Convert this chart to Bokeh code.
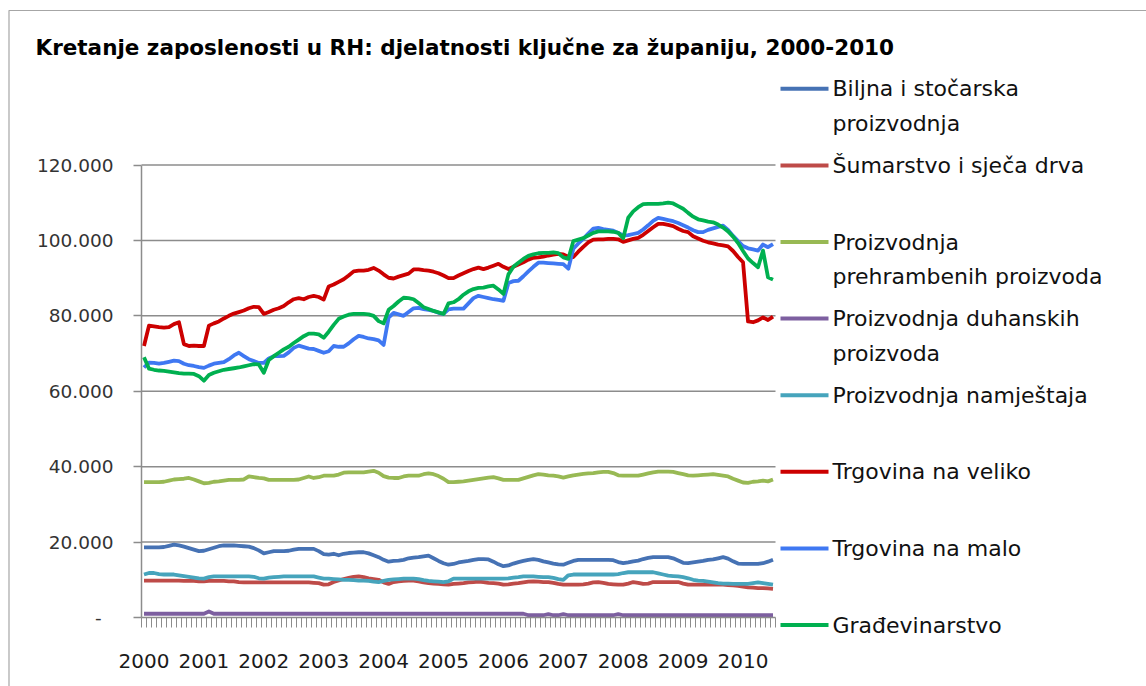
from bokeh.plotting import figure
from bokeh.models import Range1d, LinearAxis, FixedTicker
from bokeh.embed import file_html
from bokeh.resources import INLINE
from bokeh.core.properties import value

# ---------------- data (monthly, Jan 2000 - Jul 2010) ----------------
years = ["2000", "2001", "2002", "2003", "2004", "2005",
         "2006", "2007", "2008", "2009", "2010"]

y_tick_values = [0, 20000, 40000, 60000, 80000, 100000, 120000]
y_tick_labels = ["-", "20.000", "40.000", "60.000", "80.000", "100.000", "120.000"]

biljna = [18600, 18600, 18600, 18600, 18700, 19000, 19300, 19100, 18800, 18400,
          18000, 17600, 17700, 18100, 18500, 18900, 19100, 19100, 19100, 19000,
          18900, 18800, 18400, 17800, 17000, 17300, 17600, 17600, 17600, 17700,
          18000, 18200, 18200, 18200, 18200, 17600, 16800, 16700, 16900, 16500,
          16900, 17100, 17200, 17300, 17300, 17000, 16500, 16000, 15300, 14800,
          15000, 15100, 15300, 15700, 15900, 16000, 16200, 16400, 15700, 15000,
          14400, 14000, 14200, 14600, 14800, 15000, 15300, 15500, 15500, 15400,
          14800, 14100, 13600, 13800, 14300, 14700, 15000, 15300, 15500, 15300,
          14900, 14600, 14300, 14100, 14000, 14500, 15000, 15300, 15300, 15300,
          15300, 15300, 15300, 15300, 15200, 14700, 14400, 14600, 14900, 15100,
          15500, 15800, 16000, 16000, 16000, 16000, 15700, 15100, 14500, 14400,
          14600, 14800, 15000, 15300, 15400, 15700, 16000, 15600, 14900, 14300,
          14200, 14200, 14200, 14200, 14400, 14800, 15300]

sumarstvo = [9800, 9800, 9800, 9800, 9800, 9800, 9800, 9800, 9700, 9700,
             9700, 9600, 9600, 9700, 9700, 9700, 9700, 9600, 9600, 9400,
             9300, 9300, 9300, 9300, 9300, 9300, 9300, 9300, 9300, 9300,
             9300, 9300, 9300, 9300, 9200, 9100, 8700, 8800, 9400, 9800,
             10200, 10500, 10800, 10900, 10700, 10400, 10200, 10000, 9300, 8900,
             9400, 9600, 9700, 9800, 9800, 9600, 9300, 9100, 9000, 8900,
             8800, 8700, 8900, 9000, 9100, 9300, 9400, 9500, 9400, 9200,
             9100, 9000, 8700, 8800, 9000, 9100, 9300, 9500, 9600, 9500,
             9400, 9400, 9200, 8900, 8700, 8700, 8700, 8700, 8800, 9000,
             9300, 9400, 9200, 8900, 8800, 8700, 8700, 9000, 9400, 9200,
             8900, 9000, 9400, 9400, 9400, 9400, 9400, 9400, 9000, 8700,
             8700, 8700, 8700, 8700, 8700, 8700, 8700, 8600, 8500, 8400,
             8200, 8000, 7900, 7800, 7800, 7700, 7600]

prehrambeni = [35900, 35900, 35900, 35900, 36000, 36300, 36600, 36700, 36800, 37000,
               36600, 36100, 35600, 35700, 36000, 36100, 36300, 36500, 36500, 36500,
               36600, 37400, 37200, 37000, 36900, 36500, 36500, 36500, 36500, 36500,
               36500, 36600, 37000, 37400, 37000, 37200, 37600, 37600, 37600, 37900,
               38400, 38500, 38500, 38500, 38500, 38700, 38900, 38400, 37500, 37100,
               37000, 37000, 37400, 37600, 37600, 37600, 38000, 38200, 38000, 37500,
               36800, 35900, 35900, 36000, 36100, 36300, 36500, 36700, 36900, 37100,
               37200, 36900, 36500, 36500, 36500, 36500, 36900, 37300, 37700, 38000,
               37900, 37700, 37600, 37400, 37100, 37400, 37700, 37900, 38100, 38200,
               38300, 38500, 38600, 38600, 38300, 37700, 37600, 37600, 37600, 37600,
               37900, 38200, 38500, 38700, 38700, 38700, 38600, 38300, 38000, 37700,
               37600, 37700, 37800, 37900, 38000, 37800, 37600, 37400, 36800, 36300,
               35800, 35700, 36000, 36100, 36300, 36100, 36600]

duhanski = [1000, 1000, 1000, 1000, 1000, 1000, 1000, 1000, 1000, 1000,
            1000, 1000, 1000, 1600, 1000, 1000, 1000, 1000, 1000, 1000,
            1000, 1000, 1000, 1000, 1000, 1000, 1000, 1000, 1000, 1000,
            1000, 1000, 1000, 1000, 1000, 1000, 1000, 1000, 1000, 1000,
            1000, 1000, 1000, 1000, 1000, 1000, 1000, 1000, 1000, 1000,
            1000, 1000, 1000, 1000, 1000, 1000, 1000, 1000, 1000, 1000,
            1000, 1000, 1000, 1000, 1000, 1000, 1000, 1000, 1000, 1000,
            1000, 1000, 1000, 1000, 1000, 1000, 1000, 600, 600, 600,
            600, 900, 600, 600, 900, 600, 600, 600, 600, 600,
            600, 600, 600, 600, 600, 900, 600, 600, 600, 600,
            600, 600, 600, 600, 600, 600, 600, 600, 600, 600,
            600, 600, 600, 600, 600, 600, 600, 600, 600, 600,
            600, 600, 600, 600, 600, 600, 600]

namjestaj = [11400, 11800, 11800, 11500, 11400, 11400, 11400, 11200, 11000, 10800,
             10600, 10400, 10300, 10700, 10900, 10900, 10900, 10900, 10900, 10900,
             10900, 10900, 10800, 10400, 10300, 10600, 10700, 10800, 10900, 10900,
             10900, 10900, 10900, 10900, 10900, 10600, 10300, 10300, 10200, 10100,
             10000, 10000, 9900, 9800, 9800, 9700, 9500, 9400, 9700, 10000,
             10100, 10200, 10300, 10300, 10300, 10200, 9900, 9700, 9600, 9500,
             9400, 9600, 10300, 10300, 10300, 10300, 10300, 10300, 10300, 10300,
             10300, 10300, 10300, 10400, 10600, 10700, 10900, 10900, 10900, 10800,
             10700, 10700, 10500, 10200, 10000, 11200, 11400, 11400, 11400, 11400,
             11400, 11400, 11400, 11400, 11400, 11500, 11800, 12000, 12000, 12000,
             12000, 12000, 12000, 11700, 11400, 11100, 11000, 10900, 10700, 10400,
             10000, 9800, 9700, 9500, 9300, 9100, 9000, 9000, 8900, 8900,
             8900, 8900, 9100, 9300, 9100, 8900, 8700]

veliko = [72000, 77400, 77200, 77000, 76900, 77000, 77800, 78300, 72500, 72000,
          72100, 72000, 72000, 77400, 78000, 78500, 79300, 80000, 80600, 81000,
          81400, 82000, 82400, 82300, 80500, 81000, 81600, 82000, 82600, 83600,
          84400, 84700, 84400, 85000, 85300, 85000, 84300, 87800, 88300, 89000,
          89700, 90700, 91800, 92000, 92000, 92200, 92700, 92000, 91000, 90100,
          89900, 90400, 90800, 91200, 92300, 92300, 92100, 92000, 91700, 91300,
          90700, 90000, 90000, 90700, 91300, 91900, 92400, 92800, 92400, 92800,
          93300, 93800, 93000, 92400, 93000, 93600, 94200, 94900, 95400, 95500,
          95700, 96000, 96200, 96400, 96300, 95700, 95600, 97000, 98300, 99500,
          100200, 100300, 100300, 100400, 100400, 100300, 99600, 100000, 100400, 100700,
          101500, 102500, 103500, 104400, 104400, 104100, 103800, 103100, 102500, 102200,
          101100, 100500, 99900, 99500, 99200, 98900, 98700, 98400, 97200, 95600,
          94200, 78500, 78300, 78800, 79600, 78900, 79800]

malo = [66300, 67600, 67500, 67300, 67500, 67800, 68100, 68000, 67300, 66900,
        66700, 66400, 66200, 66800, 67300, 67500, 67700, 68500, 69500, 70200,
        69300, 68500, 68000, 67500, 67500, 68700, 69300, 69300, 69400, 70300,
        71500, 72100, 71700, 71300, 71200, 70700, 70200, 70600, 72000, 71800,
        71800, 72700, 73800, 74700, 74400, 74000, 73800, 73500, 72300, 79500,
        80800, 80400, 80000, 81000, 82000, 82100, 81800, 81600, 81300, 80800,
        80500, 81700, 81900, 81900, 81900, 83300, 84700, 85300, 85000, 84700,
        84400, 84200, 84000, 88700, 89200, 89300, 90500, 91800, 93000, 94100,
        94100, 94000, 93900, 93800, 93700, 92500, 97800, 99200, 100400, 101800,
        103100, 103300, 103000, 102800, 102600, 102000, 101300, 101400, 101700, 102000,
        102900, 104000, 105200, 106000, 105700, 105400, 105100, 104600, 104000, 103400,
        102700, 102200, 102200, 102800, 103200, 103600, 103900, 102800, 101200, 99800,
        98500, 97900, 97600, 97300, 98900, 98200, 99000]

gradjevinarstvo = [69000, 66000, 65700, 65500, 65400, 65200, 65000, 64800, 64700, 64700,
                   64600, 64000, 62800, 64300, 64900, 65300, 65700, 65900, 66100, 66300,
                   66600, 66900, 67200, 67100, 64900, 68300, 69300, 70200, 71100, 71800,
                   72800, 73700, 74600, 75300, 75300, 75100, 74200, 75800, 77600, 79200,
                   79800, 80300, 80500, 80500, 80500, 80400, 80000, 78600, 78000, 81600,
                   82600, 83800, 84800, 84700, 84400, 83400, 82300, 81800, 81300, 80900,
                   80500, 83300, 83600, 84400, 85600, 86500, 87100, 87400, 87500, 87800,
                   88000, 87000, 85800, 91000, 93000, 94100, 95100, 95900, 96300, 96600,
                   96700, 96700, 96800, 96600, 95500, 95100, 99800, 100200, 100600, 101300,
                   102000, 102400, 102400, 102400, 102300, 102000, 100600, 106000, 107700, 108800,
                   109600, 109700, 109700, 109700, 109800, 110000, 109800, 109100, 108400, 107300,
                   106300, 105600, 105300, 105000, 104800, 104200, 103400, 102400, 101000, 99300,
                   97200, 95200, 94000, 92900, 97300, 90200, 89600]

series_names = ["Biljna i stočarska\nproizvodnja",
                "Šumarstvo i sječa drva",
                "Proizvodnja\nprehrambenih proizvoda",
                "Proizvodnja duhanskih\nproizvoda",
                "Proizvodnja namještaja",
                "Trgovina na veliko",
                "Trgovina na malo",
                "Građevinarstvo"]
series_values = [biljna, sumarstvo, prehrambeni, duhanski,
                 namjestaj, veliko, malo, gradjevinarstvo]
series_colors = ["#4672B4", "#BE4B48", "#98B954", "#7D5FA0",
                 "#46A4BC", "#CC0000", "#3F78F2", "#00B050"]

title_text = "Kretanje zaposlenosti u RH: djelatnosti ključne za županiju, 2000-2010"

# ---------------- layout (canvas pixels) ----------------
W, H = 1146, 686
AXIS_LEFT_PX = 141      # x of the y axis
AXIS_BOTTOM_PX = 617    # y of value 0
TOP_TICK_PX = 164.5     # y of value 120000
DATA_RIGHT_PX = 775     # x of the end of the category axis

N = len(veliko)
months = list(range(N))
PXM = (DATA_RIGHT_PX - AXIS_LEFT_PX) / N
YMAX = y_tick_values[-1]
PXV = (AXIS_BOTTOM_PX - TOP_TICK_PX) / YMAX


def dx(xp):
    return -0.5 + (xp - AXIS_LEFT_PX) / PXM


def dy(yp):
    return (AXIS_BOTTOM_PX - yp) / PXV


p = figure(width=W, height=H,
           x_range=Range1d(dx(0), dx(W)),
           y_range=Range1d(dy(H), dy(0)),
           output_backend="svg", toolbar_location=None,
           x_axis_type=None, y_axis_type=None,
           min_border=0, min_border_left=0, min_border_right=0,
           min_border_top=0, min_border_bottom=0,
           outline_line_color=None,
           background_fill_color="white", border_fill_color="white")
p.grid.visible = False

GRID = "#8C8C8C"

# outer chart border (top and left edges visible in the reference)
p.line([dx(8.5), dx(8.5), dx(W + 5)], [dy(H + 5), dy(10), dy(10)],
       line_color="#A6A6A6", line_width=1.2)

# y axis, fixed at the left edge of the category range
yaxis = LinearAxis(
    fixed_location=-0.5,
    ticker=FixedTicker(ticks=y_tick_values),
    bounds=(0, YMAX),
    major_label_overrides={v: (s if v else s + "\u00a0\u00a0") for v, s in zip(y_tick_values, y_tick_labels)},
    axis_line_color=GRID, axis_line_width=1.5,
    major_tick_line_color=GRID, major_tick_line_width=1.5,
    major_tick_out=8, major_tick_in=0,
    minor_tick_line_color=None,
    major_label_standoff=20,
    major_label_text_font="DejaVu Sans",
    major_label_text_font_size="18.5px",
    major_label_text_color="#333333")
p.add_layout(yaxis, "left")

# x axis (monthly categories, labels at each January)
jan_idx = [12 * k for k in range(len(years))]
xaxis = LinearAxis(
    fixed_location=0,
    ticker=FixedTicker(ticks=jan_idx, minor_ticks=[m - 0.5 for m in range(N + 1)]),
    bounds=(-0.5, N - 0.5),
    major_label_overrides={t: y for t, y in zip(jan_idx, years)},
    axis_line_color=GRID, axis_line_width=1.5,
    major_tick_line_color=None, major_tick_out=0, major_tick_in=0,
    minor_tick_line_color=GRID, minor_tick_line_width=1,
    minor_tick_out=10, minor_tick_in=0,
    major_label_standoff=26,
    major_label_text_font="DejaVu Sans",
    major_label_text_font_size="20px",
    major_label_text_color="#1A1A1A")
p.add_layout(xaxis, "below")

# horizontal gridlines
gv = y_tick_values[1:]
p.segment(x0=[-0.5] * len(gv), x1=[N - 0.5] * len(gv), y0=gv, y1=gv,
          line_color=GRID, line_width=1.5)

# series
for vals, col in zip(series_values, series_colors):
    p.line(months, vals, line_color=col, line_width=3.8, line_join="round")

# legend (drawn by hand to match Excel's layout)
LEG_X0, LEG_X1, LEG_TX = 780, 828, 832
LEG_Y0, LEG_DY, LEG_LH = 88.3, 76.6, 34.5
tx, ty, tt = [], [], []
for k, (name, col) in enumerate(zip(series_names, series_colors)):
    yl = LEG_Y0 + k * LEG_DY
    p.line([dx(LEG_X0), dx(LEG_X1)], [dy(yl), dy(yl)], line_color=col, line_width=4)
    for j, part in enumerate(name.split("\n")):
        tx.append(dx(LEG_TX))
        ty.append(dy(yl + j * LEG_LH))
        tt.append(part)
p.text(x=tx, y=ty, text=tt, text_font=value("DejaVu Sans"), text_font_size="22px",
       text_baseline="middle", text_align="left", text_color="#111111")

# title
p.text(x=[dx(35)], y=[dy(47)], text=[title_text], text_font=value("DejaVu Sans"),
       text_font_style="bold", text_font_size="21.5px", text_baseline="middle",
       text_align="left", text_color="#000000")

open("out.html", "w").write(file_html(p, INLINE))
